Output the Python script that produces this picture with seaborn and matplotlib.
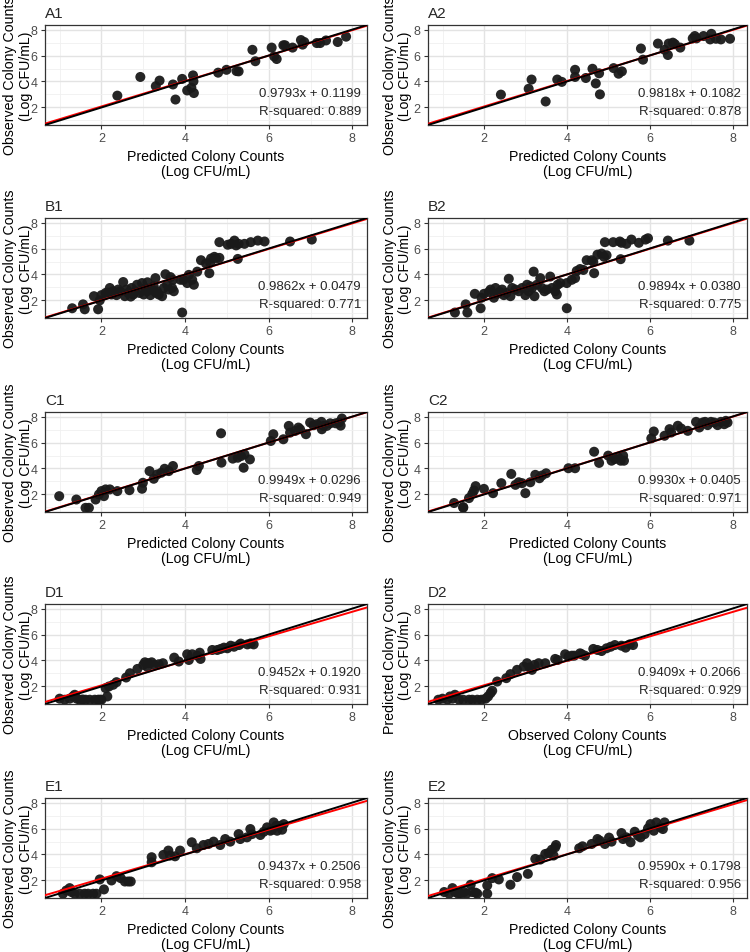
import numpy as np
import pandas as pd
import matplotlib
matplotlib.use("Agg")
import matplotlib.pyplot as plt
import seaborn as sns
from matplotlib.ticker import MultipleLocator

# ---------------- data ----------------
a1_x = [2.38, 2.93, 3.30, 3.39, 3.71, 3.77, 3.93, 4.05, 4.15, 4.19, 4.20, 4.21, 4.79, 4.99, 5.23, 5.28,
        5.61, 5.68, 6.07, 6.13, 6.19, 6.35, 6.39, 6.57, 6.77, 6.81, 6.85, 7.15, 7.23, 7.37, 7.65, 7.85]
a1_y = [2.91, 4.35, 3.64, 4.07, 3.77, 2.61, 4.20, 3.31, 3.52, 4.47, 4.02, 3.11, 4.68, 4.90, 4.80, 4.78,
        6.44, 5.56, 6.61, 5.93, 5.73, 6.79, 6.79, 6.61, 7.19, 6.84, 7.04, 6.96, 6.96, 7.16, 7.04, 7.45]

a2_x = [2.41, 3.08, 3.15, 3.49, 3.77, 3.88, 4.20, 4.20, 4.46, 4.62, 4.70, 4.78, 4.80, 5.13, 5.25, 5.33,
        5.79, 5.84, 6.20, 6.36, 6.44, 6.46, 6.56, 6.61, 6.74, 7.04, 7.09, 7.13, 7.30, 7.49, 7.46, 7.60,
        7.72, 7.94]
a2_y = [2.99, 3.44, 4.15, 2.46, 4.15, 3.97, 4.90, 4.35, 4.27, 4.98, 3.85, 4.63, 3.01, 5.03, 4.60, 4.78,
        6.54, 5.68, 6.92, 6.44, 6.04, 6.92, 6.99, 6.87, 6.61, 7.32, 7.50, 7.32, 7.50, 7.67, 7.24, 7.29,
        7.24, 7.29]

b1_x = [1.30, 1.56, 1.60, 1.82, 1.92, 1.96, 2.00, 2.10, 2.20, 2.24, 2.28, 2.36, 2.40, 2.52, 2.56, 2.60,
        2.64, 2.72, 2.76, 2.81, 2.85, 2.91, 2.97, 3.01, 3.05, 3.09, 3.17, 3.21, 3.25, 3.29, 3.33, 3.37,
        3.45, 3.49, 3.53, 3.57, 3.61, 3.69, 3.71, 3.73, 3.89, 3.96, 4.05, 4.09, 4.17, 4.21, 4.29, 4.38,
        4.50, 4.58, 4.60, 4.62, 4.70, 4.74, 4.82, 5.26, 3.93, 2.15, 2.45, 2.70, 3.10, 3.30, 3.65,
        4.82, 5.02, 5.10, 5.18, 5.22, 5.28, 5.42, 5.57, 5.74, 5.90, 6.51, 7.03]
b1_y = [1.40, 1.70, 1.32, 2.33, 1.32, 2.01, 2.41, 2.58, 2.96, 2.46, 2.71, 2.41, 2.84, 3.42, 2.33, 2.84,
        2.58, 2.96, 2.46, 2.71, 3.21, 2.58, 3.34, 2.46, 2.96, 2.71, 2.41, 2.84, 3.09, 3.72, 2.71, 2.46,
        2.33, 2.96, 4.02, 3.21, 2.84, 2.96, 3.59, 2.71, 3.59, 3.59, 3.34, 3.97, 3.59, 3.21, 4.22, 5.10,
        4.85, 4.10, 4.90, 5.23, 5.36, 5.23, 5.28, 5.20, 1.07, 2.60, 2.70, 2.30, 3.40, 2.60, 3.80,
        6.49, 6.29, 6.36, 6.61, 6.24, 6.36, 6.36, 6.49, 6.61, 6.54, 6.54, 6.69]

b2_x = [1.30, 1.56, 1.60, 1.78, 1.92, 1.94, 2.00, 2.12, 2.16, 2.24, 2.28, 2.32, 2.38, 2.44, 2.48, 2.54,
        2.60, 2.64, 2.68, 2.76, 2.84, 2.92, 3.00, 3.04, 3.08, 3.12, 3.16, 3.20, 3.22, 3.28, 3.36, 3.40,
        3.46, 3.52, 3.60, 3.64, 3.72, 3.76, 3.78, 3.84, 4.00, 4.00, 4.12, 4.20, 4.24, 4.32, 4.40, 4.48,
        4.60, 4.64, 4.66, 4.74, 4.84, 4.90, 4.96, 5.30, 4.92, 5.12, 5.28, 5.32, 5.44, 5.56, 5.74, 5.90,
        5.96, 6.44, 6.96]
b2_y = [1.07, 1.70, 1.07, 2.51, 1.40, 2.21, 2.51, 2.66, 2.84, 2.21, 2.96, 2.51, 2.66, 2.84, 2.41, 2.58,
        3.67, 2.33, 2.96, 2.84, 2.71, 2.96, 2.41, 3.21, 2.71, 3.09, 2.96, 4.22, 2.33, 3.21, 3.72, 2.96,
        2.71, 2.84, 3.84, 2.96, 2.71, 2.46, 3.21, 3.34, 1.40, 3.34, 3.59, 3.72, 4.27, 4.42, 4.35, 5.10,
        5.10, 4.98, 4.10, 5.53, 5.61, 5.36, 5.48, 5.18, 6.49, 6.49, 6.54, 6.44, 6.36, 6.69, 6.44, 6.69,
        6.79, 6.61, 6.61]

c1_x = [0.99, 1.40, 1.62, 1.70, 1.86, 1.94, 2.00, 2.06, 2.10, 2.20, 2.38, 2.67, 2.97, 2.99, 3.15, 3.25,
        3.33, 3.43, 3.51, 3.61, 3.71, 4.28, 4.33, 4.86, 4.87, 5.14, 5.26, 5.34, 5.42, 5.40, 5.55, 6.05,
        6.11, 6.35, 6.48, 6.51, 6.63, 6.71, 6.75, 6.89, 6.99, 7.07, 7.15, 7.26, 7.27, 7.31, 7.39, 7.47,
        7.60, 7.68, 7.72, 7.75]
c1_y = [1.87, 1.61, 0.97, 0.97, 1.61, 2.00, 2.26, 1.87, 2.39, 2.39, 2.26, 2.33, 2.44, 2.90, 3.80, 3.21,
        3.54, 3.67, 3.98, 3.80, 4.19, 3.88, 4.19, 6.71, 4.45, 4.76, 4.83, 4.96, 5.09, 4.06, 4.70, 6.12,
        6.64, 6.25, 7.28, 6.76, 6.89, 7.15, 7.02, 6.64, 7.54, 7.33, 7.41, 7.59, 7.02, 7.28, 7.28, 7.48,
        7.48, 7.54, 7.30, 7.85]

c2_x = [1.28, 1.50, 1.64, 1.72, 1.76, 1.80, 2.00, 2.22, 2.42, 2.66, 2.76, 2.84, 2.92, 3.00, 3.12, 3.24,
        3.34, 3.40, 3.50, 4.04, 4.20, 4.66, 4.78, 5.00, 5.08, 5.16, 5.24, 5.30, 5.36, 5.38, 6.04, 6.10,
        6.36, 6.48, 6.52, 6.68, 6.76, 6.92, 7.12, 7.20, 7.28, 7.34, 7.40, 7.48, 7.56, 7.64, 7.72, 7.80,
        7.84, 7.88, 1.50]
c2_y = [1.34, 1.03, 1.72, 2.05, 2.31, 2.64, 2.43, 2.10, 2.87, 3.58, 2.74, 2.94, 2.87, 2.10, 2.94, 3.51,
        3.25, 3.46, 3.63, 4.02, 4.02, 5.29, 4.43, 4.99, 4.60, 4.73, 4.86, 4.60, 4.99, 4.60, 6.32, 6.85,
        6.52, 7.03, 6.77, 7.29, 7.08, 6.90, 7.59, 7.16, 7.54, 7.59, 7.34, 7.59, 7.54, 7.34, 7.59, 7.41,
        7.67, 7.54, 0.98]

d1_x = [1.00, 1.12, 1.24, 1.32, 1.36, 1.41, 1.48, 1.55, 1.62, 1.72, 1.84, 1.92, 1.96, 2.00, 2.14, 2.10,
        2.18, 2.28, 2.36, 2.59, 2.68, 2.86, 3.00, 3.04, 3.10, 3.12, 3.20, 3.26, 3.37, 3.47, 3.74, 3.85,
        4.05, 4.09, 4.17, 4.29, 4.35, 4.37, 4.65, 4.77, 4.85, 4.93, 5.01, 5.09, 5.17, 5.29, 5.33, 5.49,
        5.57, 5.64]
d1_y = [1.06, 0.98, 1.06, 1.23, 1.36, 1.06, 0.98, 1.00, 0.98, 0.98, 0.98, 0.98, 0.98, 0.98, 1.23, 1.87,
        2.00, 2.13, 2.33, 2.69, 3.02, 3.35, 3.66, 3.86, 3.50, 3.79, 3.86, 3.66, 3.71, 3.79, 4.22, 3.92,
        4.48, 4.04, 4.48, 4.37, 4.60, 4.12, 4.81, 4.81, 4.89, 4.99, 4.94, 5.14, 5.06, 5.19, 5.30, 5.24,
        5.32, 5.24]

d2_x = [0.90, 1.00, 1.12, 1.18, 1.24, 1.30, 1.40, 1.50, 1.64, 1.72, 1.84, 1.94, 2.04, 2.10, 2.16, 2.20,
        2.32, 2.54, 2.64, 2.80, 2.96, 3.04, 3.10, 3.16, 3.22, 3.32, 3.48, 3.72, 3.78, 3.96, 4.04, 4.12,
        4.18, 4.32, 4.36, 4.44, 4.64, 4.74, 4.84, 4.96, 5.06, 5.16, 5.32, 5.42, 5.52, 5.60]
d2_y = [0.98, 1.06, 0.98, 1.23, 1.06, 1.36, 0.98, 0.98, 0.98, 0.98, 0.98, 0.98, 1.06, 1.23, 1.49, 1.67,
        2.38, 2.64, 2.95, 3.28, 3.53, 3.79, 3.46, 3.28, 3.66, 3.79, 3.79, 4.12, 4.04, 4.48, 4.30, 4.37,
        4.37, 4.55, 4.48, 4.37, 4.89, 4.81, 4.73, 4.94, 5.06, 5.19, 5.14, 4.99, 5.24, 5.19]

e1_x = [1.08, 1.16, 1.24, 1.28, 1.36, 1.48, 1.60, 1.68, 1.80, 1.88, 1.96, 2.06, 2.24, 2.36, 2.46, 2.56,
        2.64, 2.70, 3.20, 3.20, 3.48, 3.60, 3.64, 3.76, 3.88, 4.16, 4.28, 4.44, 4.56, 4.68, 4.84, 4.96,
        5.08, 5.28, 5.32, 5.48, 5.56, 5.60, 5.80, 5.88, 5.96, 6.04, 6.12, 6.18, 6.28, 6.08, 6.20, 6.36,
        6.32]
e1_y = [0.98, 1.23, 1.41, 1.11, 0.98, 0.98, 0.98, 0.98, 0.98, 0.98, 2.08, 1.31, 2.00, 2.33, 2.18, 1.92,
        1.92, 1.92, 3.79, 3.40, 3.97, 4.30, 3.92, 3.86, 4.30, 4.94, 4.48, 4.73, 4.81, 4.99, 4.73, 5.19,
        4.99, 5.57, 5.19, 5.32, 5.96, 5.57, 5.50, 5.75, 6.09, 5.83, 6.47, 6.21, 6.21, 5.91, 5.83, 6.34,
        5.91]

e2_x = [1.04, 1.16, 1.24, 1.30, 1.38, 1.44, 1.52, 1.58, 1.68, 1.72, 1.80, 1.84, 2.08, 2.08, 2.20, 2.36,
        2.64, 2.80, 3.06, 3.24, 3.36, 3.48, 3.56, 3.64, 3.68, 3.72, 3.74, 4.30, 4.38, 4.60, 4.74, 4.80,
        4.92, 5.08, 5.32, 5.36, 5.44, 5.54, 5.64, 5.72, 5.78, 5.88, 5.96, 6.02, 6.10, 6.16, 6.26, 6.32,
        6.36, 5.02]
e2_y = [1.11, 0.98, 1.41, 1.11, 0.98, 0.98, 1.11, 0.98, 1.67, 1.11, 1.06, 0.98, 0.98, 1.62, 2.18, 2.08,
        1.67, 2.26, 2.51, 3.66, 3.61, 4.04, 4.12, 4.37, 3.92, 4.55, 4.73, 4.48, 4.63, 4.81, 5.19, 5.06,
        4.81, 4.99, 5.65, 5.19, 5.32, 4.94, 5.75, 5.45, 5.32, 5.57, 6.01, 6.34, 5.83, 6.47, 6.09, 5.96,
        6.47, 5.30]

panel_names = ["A1", "A2", "B1", "B2", "C1", "C2", "D1", "D2", "E1", "E2"]
panel_x = [a1_x, a2_x, b1_x, b2_x, c1_x, c2_x, d1_x, d2_x, e1_x, e2_x]
panel_y = [a1_y, a2_y, b1_y, b2_y, c1_y, c2_y, d1_y, d2_y, e1_y, e2_y]
slopes = [0.9793, 0.9818, 0.9862, 0.9894, 0.9949, 0.9930, 0.9452, 0.9409, 0.9437, 0.9590]
intercepts = [0.1199, 0.1082, 0.0479, 0.0380, 0.0296, 0.0405, 0.1920, 0.2066, 0.2506, 0.1798]
r_squared = ["0.889", "0.878", "0.771", "0.775", "0.949", "0.971", "0.931", "0.929", "0.958", "0.956"]
obs_label = "Observed Colony Counts\n(Log CFU/mL)"
pred_label = "Predicted Colony Counts\n(Log CFU/mL)"
x_labels = [pred_label] * 7 + [obs_label] + [pred_label] * 2
y_labels = [obs_label] * 7 + [pred_label] + [obs_label] * 2

# ---------------- style ----------------
sns.set_theme(style="white")
plt.rcParams["font.family"] = ["Liberation Sans", "DejaVu Sans"]

W, H = 750, 953
fig = plt.figure(figsize=(W / 100, H / 100), dpi=100)
col_left = [45, 428]
col_width = [322, 319]
row_top = [26, 219, 413, 605, 799]
ax_h = 100
ylab_x = [-0.084, -0.097]

for i, name in enumerate(panel_names):
    r, c = divmod(i, 2)
    ax = fig.add_axes([col_left[c] / W, 1 - (row_top[r] + ax_h) / H, col_width[c] / W, ax_h / H])
    df = pd.DataFrame({"x": panel_x[i], "y": panel_y[i]})
    sns.scatterplot(data=df, x="x", y="y", ax=ax, s=52, color="#1a1a1a",
                    edgecolor="none", alpha=0.95, zorder=3)
    ax.axline((0, intercepts[i]), slope=slopes[i], color="#FF0000", lw=1.4, zorder=4)
    ax.axline((0, 0), slope=1, color="black", lw=1.4, zorder=5)

    ax.set_xlim(0.65, 8.35)
    ax.set_ylim(0.65, 8.35)
    for axis in (ax.xaxis, ax.yaxis):
        axis.set_major_locator(MultipleLocator(2))
        axis.set_minor_locator(MultipleLocator(1))
    ax.grid(which="major", color="#E3E3E3", lw=1.0, zorder=0)
    ax.grid(which="minor", color="#F0F0F0", lw=0.6, zorder=0)
    ax.set_axisbelow(True)
    ax.set_facecolor("white")
    for sp in ax.spines.values():
        sp.set_color("#333333")
        sp.set_linewidth(0.9)
    ax.tick_params(which="major", length=3.2, width=0.8, color="#333333",
                   labelsize=9, labelcolor="#4D4D4D", pad=2, bottom=True, left=True)
    ax.tick_params(which="minor", length=0)

    ax.set_xlabel(x_labels[i], fontsize=10.2, color="black", va="center", linespacing=1.1)
    ax.xaxis.set_label_coords(0.5, -0.385)
    ax.set_ylabel(y_labels[i], fontsize=10.2, color="black", va="center", linespacing=1.1)
    ax.yaxis.set_label_coords(ylab_x[c], 0.5)

    ax.text(0.0, 1.12, name, transform=ax.transAxes, fontsize=11, ha="left", va="center")
    ax.text(0.981, 0.32, f"{slopes[i]:.4f}x + {intercepts[i]:.4f}", transform=ax.transAxes,
            fontsize=9.5, ha="right", va="center")
    ax.text(0.981, 0.137, f"R-squared: {r_squared[i]}", transform=ax.transAxes,
            fontsize=9.5, ha="right", va="center")

fig.savefig("out.png", dpi=100)
